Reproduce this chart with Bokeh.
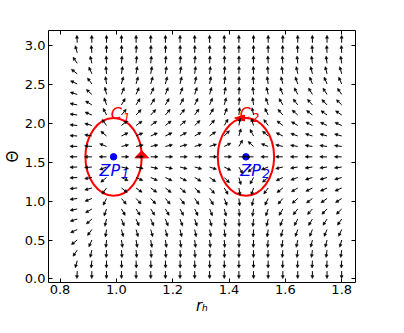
import math
from bokeh.plotting import figure
from bokeh.models import (ColumnDataSource, Arrow, NormalHead, LinearAxis, FixedTicker,
                          Range1d, CustomJSTickFormatter)
from bokeh.core.properties import value
from bokeh.embed import file_html
from bokeh.resources import INLINE

# ---------------- data ----------------
r_cols = [0.861, 0.913, 0.965, 1.018, 1.070, 1.122, 1.174, 1.226, 1.278, 1.331,
          1.383, 1.435, 1.487, 1.539, 1.591, 1.644, 1.696, 1.748, 1.800]
phi_r = [-5.0, -1.7, -0.35, 0.6, 0.65, 0.65, 0.6, 0.55, 0.5, 0.42,
         0.28, 0.08, -0.15, -0.35, -0.6, -0.8, -0.92, -1.0, -1.05]
theta_rows = [0.10, 0.235, 0.37, 0.50, 0.635, 0.77, 0.90, 1.035, 1.17, 1.305, 1.44,
              1.571, 1.705, 1.84, 1.975, 2.11, 2.24, 2.375, 2.51, 2.64, 2.775, 2.91, 3.04]
phi_theta = [-99.8, -18.1, -7.2, -3.8, -2.29, -1.49, -1.01, -0.69, -0.46, -0.28, -0.136,
             0.0, 0.136, 0.28, 0.46, 0.69, 1.01, 1.49, 2.29, 3.8, 7.2, 18.1, 99.8]

zp_r = [0.99, 1.46]
zp_theta = [1.571, 1.571]
zp_text = ["ZP", "ZP"]
zp_sub = ["1", "2"]
zp_label_r = [0.94, 1.44]
zp_label_theta = [1.39, 1.39]

contour_text = ["C", "C"]
contour_sub = ["1", "2"]
contour_label_r = [0.98, 1.438]
contour_label_theta = [2.13, 2.13]
contour_half_r = 0.1
contour_half_theta = 0.5

x_ticks = [0.8, 1.0, 1.2, 1.4, 1.6, 1.8]
x_tick_labels = ["0.8", "1.0", "1.2", "1.4", "1.6", "1.8"]
y_ticks = [0.0, 0.5, 1.0, 1.5, 2.0, 2.5, 3.0]
y_tick_labels = ["0.0", "0.5", "1.0", "1.5", "2.0", "2.5", "3.0"]
x_title = "r\u2095"
y_title = "\u0398"

# ---------------- figure ----------------
X0, X1 = 0.759, 1.849
Y0, Y1 = -0.047, 3.198
W, H = 388, 317
BL, BR, BT, BB = 42, 33, 30, 35
FW, FH = W - BL - BR, H - BT - BB
sx = FW / (X1 - X0)
sy = FH / (Y1 - Y0)
FONT = "DejaVu Sans"

p = figure(width=W, height=H,
           x_range=Range1d(X0, X1), y_range=Range1d(Y0, Y1),
           output_backend="svg", toolbar_location=None,
           min_border_left=BL, min_border_right=BR,
           min_border_top=BT, min_border_bottom=BB)
p.background_fill_color = "white"
p.border_fill_color = "white"
p.grid.visible = False
p.outline_line_color = "black"
p.outline_line_width = 1

for ax in (p.xaxis[0], p.yaxis[0]):
    ax.major_tick_in = 4
    ax.major_tick_out = 0
    ax.minor_tick_in = 0
    ax.minor_tick_out = 0
    ax.axis_line_color = None
    ax.major_tick_line_color = "black"
    ax.major_label_text_font = FONT
    ax.major_label_text_font_size = "13px"
    ax.major_label_text_color = "black"
    ax.axis_label_text_font = FONT
    ax.axis_label_text_color = "black"
p.xaxis[0].ticker = FixedTicker(ticks=x_ticks)
p.xaxis[0].major_label_overrides = dict(zip(x_ticks, x_tick_labels))
p.xaxis[0].major_label_standoff = 2
p.xaxis[0].axis_label = x_title
p.xaxis[0].axis_label_text_font_style = "italic"
p.xaxis[0].axis_label_text_font_size = "15px"
p.xaxis[0].axis_label_standoff = 0

p.yaxis[0].ticker = FixedTicker(ticks=y_ticks)
p.yaxis[0].major_label_overrides = dict(zip(y_ticks, y_tick_labels))
p.yaxis[0].major_label_standoff = 3
p.yaxis[0].axis_label = y_title
p.yaxis[0].axis_label_text_font_style = "normal"
p.yaxis[0].axis_label_text_font_size = "15px"
p.yaxis[0].axis_label_standoff = 0

blank = CustomJSTickFormatter(code="return ''")
for loc, ticks in (("above", x_ticks), ("right", y_ticks)):
    ax = LinearAxis(ticker=FixedTicker(ticks=ticks), formatter=blank,
                    major_tick_in=4, major_tick_out=0, minor_tick_in=0, minor_tick_out=0,
                    major_label_standoff=0, major_label_text_font_size="1px",
                    axis_line_color=None, major_tick_line_color="black")
    p.add_layout(ax, loc)

# ---------------- vector field (normalized, tail pivot) ----------------
L = 7.5
x0s, y0s, x1s, y1s = [], [], [], []
for j, r in enumerate(r_cols):
    for k, th in enumerate(theta_rows):
        ang = math.atan2(phi_theta[k], phi_r[j])
        x0s.append(r)
        y0s.append(th)
        x1s.append(r + L * math.cos(ang) / sx)
        y1s.append(th + L * math.sin(ang) / sy)
src = ColumnDataSource(dict(x0=x0s, y0=y0s, x1=x1s, y1=y1s))
p.add_layout(Arrow(end=NormalHead(size=3, fill_color="black", line_color="black", line_width=0.5),
                   x_start="x0", y_start="y0", x_end="x1", y_end="y1",
                   source=src, line_width=1, line_color="black"))

# ---------------- contours ----------------
p.ellipse(x=zp_r, y=zp_theta, width=2 * contour_half_r, height=2 * contour_half_theta,
          fill_color=None, line_color="red", line_width=2)

a1x, a1y = zp_r[0] + contour_half_r, zp_theta[0]
a2x, a2y = zp_r[1], zp_theta[1] + contour_half_theta
head_xs = [[a1x - 7 / sx, a1x + 7 / sx, a1x],
           [a2x - 1.5 / sx, a2x - 1.5 / sx, a2x - 11.5 / sx]]
head_ys = [[a1y - 1 / sy, a1y - 1 / sy, a1y + 6 / sy],
           [a2y + 3 / sy, a2y - 3 / sy, a2y]]
p.patches(xs=head_xs, ys=head_ys, fill_color="red", line_color="red", line_width=1)

# zero points
p.scatter(x=zp_r, y=zp_theta, size=6.5, color="blue")

p.text(x=zp_label_r, y=zp_label_theta, text=zp_text, text_font=value(FONT),
       text_font_style="italic", text_font_size="16px", text_color="blue",
       text_baseline="alphabetic")
p.text(x=zp_label_r, y=zp_label_theta, text=zp_sub, text_font=value(FONT),
       text_font_style="italic", text_font_size="12px", text_color="blue",
       text_baseline="alphabetic", x_offset=22, y_offset=3)

p.text(x=contour_label_r, y=contour_label_theta, text=contour_text, text_font=value(FONT),
       text_font_style="italic", text_font_size="16px", text_color="red",
       text_baseline="alphabetic")
p.text(x=contour_label_r, y=contour_label_theta, text=contour_sub, text_font=value(FONT),
       text_font_style="italic", text_font_size="12px", text_color="red",
       text_baseline="alphabetic", x_offset=12, y_offset=4)

open("out.html", "w").write(file_html(p, INLINE))
